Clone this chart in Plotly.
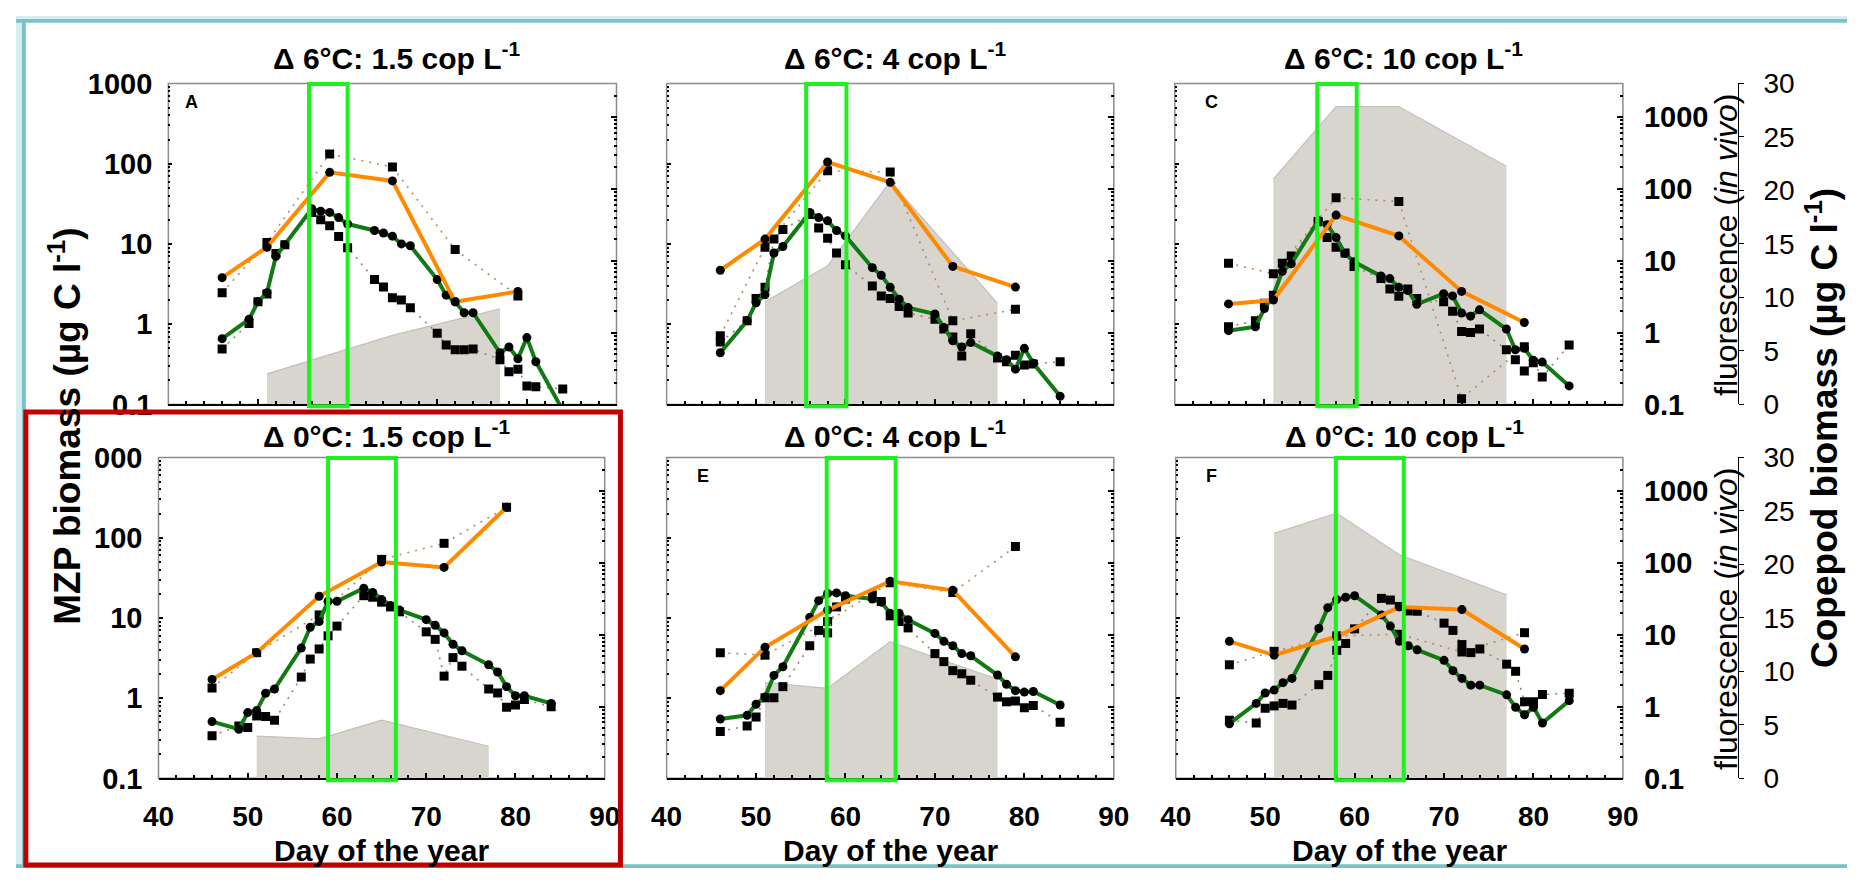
import plotly.graph_objects as go

W, H = 1863, 884
FONT = "Liberation Sans, Arial, sans-serif"

# ---- sampling days -------------------------------------------------------
DAYS_WEEKLY = [46, 51, 58, 65, 72, 79]
DAYS_DAILY = [46, 49, 50, 51, 52, 53, 56, 57, 58, 59, 60, 63, 64, 65, 66, 67,
              70, 71, 72, 73, 74, 77, 78, 79, 80, 81, 84]
DAYS_FLUO = [51, 58, 65, 72, 77]

# ---- panel titles and letters -------------------------------------------
TITLES = ["Δ 6°C: 1.5 cop L<sup>-1</sup>", "Δ 6°C: 4 cop L<sup>-1</sup>",
          "Δ 6°C: 10 cop L<sup>-1</sup>", "Δ 0°C: 1.5 cop L<sup>-1</sup>",
          "Δ 0°C: 4 cop L<sup>-1</sup>", "Δ 0°C: 10 cop L<sup>-1</sup>"]
LETTERS = ["A", "", "C", "", "E", "F"]

# ---- MZP biomass (µg C l-1): weekly series (orange) ------------------------
A_ORANGE_MOD = [3.8, 9.1, 78, 61, 1.9, 2.56]
A_ORANGE_OBS = [2.47, 10.4, 132, 91, 8.5, 2.25]
B_ORANGE_MOD = [4.7, 11.5, 105, 58.6, 5.25, 2.9]
B_ORANGE_OBS = [0.72, 9.1, 81.7, 79, 1.1, 1.53]
C_ORANGE_MOD = [1.79, 2.0, 22.9, 12.6, 2.56, 1.05]
C_ORANGE_OBS = [5.75, 4.25, 37.7, 33.7, 0.118, 0.525]
D_ORANGE_MOD = [1.71, 3.69, 18.6, 49.8, 42.6, 239]
D_ORANGE_OBS = [1.34, 3.69, 10.9, 53.6, 85, 239]
E_ORANGE_MOD = [1.24, 4.3, 12.5, 28.6, 22.1, 3.27]
E_ORANGE_OBS = [3.69, 3.43, 9.0, 27.4, 20.7, 77.6]
F_ORANGE_MOD = [5.1, 3.43, 5.86, 13.7, 12.7, 4.1]
F_ORANGE_OBS = [2.6, 3.83, 5.97, 6.25, 3.76, 6.55]

# ---- MZP biomass (µg C l-1): daily series (green) --------------------------
A_GREEN_MOD = [0.66, 1.15, 1.9, 2.47, 7.0, 9.8, 27.5, 25.6, 24.7, 21.3, 17.7, 14.7, 13.7,
               12.5, 10, 9.5, 3.6, 2.3, 1.9, 1.39, 1.39, 0.44, 0.52, 0.37, 0.68, 0.34, 0.085]
A_GREEN_OBS = [0.49, 1.02, 1.9, 2.38, 7.6, 9.8, 24.7, 20, 16.9, 12.4, 8.95, 3.6, 2.9,
               2.13, 2.0, 1.6, 0.77, 0.55, 0.48, 0.48, 0.49, 0.36, 0.256, 0.275, 0.17, 0.166, 0.156]
B_GREEN_MOD = [0.44, 1.1, 1.85, 2.33, 7.7, 9.3, 24.7, 21.3, 19.4, 14.7, 12.6, 5.06, 4.06,
               2.88, 2.05, 1.61, 1.34, 0.91, 0.62, 0.52, 0.59, 0.40, 0.36, 0.275, 0.5, 0.325, 0.126]
B_GREEN_OBS = [0.60, 1.1, 2.09, 2.88, 11.5, 15.1, 23.3, 15.8, 11.8, 7.7, 5.5, 3.0, 2.25,
               2.09, 1.66, 1.38, 1.15, 0.87, 0.69, 0.40, 0.76, 0.38, 0.34, 0.41, 0.31, 0.32, 0.34]
C_GREEN_MOD = [0.83, 0.93, 1.56, 2.29, 4.57, 5.65, 19.6, 17.4, 12.0, 7.6, 6.0, 3.98, 3.7,
               2.88, 2.63, 1.77, 2.4, 2.25, 1.38, 1.26, 1.51, 0.87, 0.48, 0.50, 0.356, 0.337, 0.17]
C_GREEN_OBS = [0.93, 1.1, 1.82, 2.29, 5.75, 7.05, 19, 12, 9.1, 7.7, 5.25, 3.7, 2.75,
               2.23, 2.75, 2.09, 1.9, 1.45, 0.81, 0.79, 0.87, 0.48, 0.36, 0.26, 0.33, 0.22, 0.55]
D_GREEN_MOD = [0.51, 0.41, 0.66, 0.70, 1.15, 1.30, 4.2, 7.65, 9.0, 16.1, 16.1, 23.4, 20.7,
               16.9, 14.3, 12.5, 9.5, 8.1, 6.5, 4.7, 3.9, 2.6, 2.12, 1.39, 1.07, 1.07, 0.86]
D_GREEN_OBS = [0.34, 0.45, 0.43, 0.60, 0.59, 0.53, 1.83, 3.07, 4.1, 5.97, 7.9, 18.9, 18.1,
               15.7, 13.7, 11.9, 6.7, 5.4, 1.88, 3.2, 2.5, 1.3, 1.16, 0.77, 0.82, 0.96, 0.78]
E_GREEN_MOD = [0.55, 0.61, 0.84, 1.03, 1.92, 2.46, 10.1, 16.4, 20.2, 20.5, 18.9, 17.2, 15.7,
               11.4, 11.4, 9.5, 6.4, 5.1, 4.5, 3.59, 3.37, 1.94, 1.49, 1.24, 1.19, 1.21, 0.82]
E_GREEN_OBS = [0.385, 0.45, 0.58, 1.01, 1.01, 1.39, 4.5, 6.98, 6.5, 13.7, 17.2, 19.3, 16.0,
               10.6, 9.0, 7.5, 3.59, 2.85, 2.2, 2.01, 1.67, 1.03, 0.90, 0.92, 0.76, 0.81, 0.50]
F_GREEN_MOD = [0.48, 0.86, 1.16, 1.26, 1.56, 1.76, 7.4, 13.4, 16.9, 18.1, 18.9, 10.9, 7.9,
               5.1, 4.5, 4.0, 2.96, 2.2, 1.76, 1.45, 1.45, 1.10, 0.77, 0.62, 0.77, 0.49, 0.93]
F_GREEN_OBS = [0.53, 0.49, 0.75, 0.80, 0.86, 0.82, 1.47, 1.92, 3.94, 4.8, 7.3, 17.5, 16.7,
               13.9, 12.2, 12.1, 8.6, 6.98, 4.65, 3.69, 4.1, 2.65, 2.16, 0.90, 0.90, 1.11, 1.15]

# ---- in vivo fluorescence (grey area, 0-30 scale) --------------------------
A_FLUO = [2.85, 4.65, 6.45, 7.9, 8.94]
B_FLUO = [9.6, 12.96, 20.85, 14.2, 9.45]
C_FLUO = [21.06, 27.84, 27.84, 24.6, 22.26]
D_FLUO = [3.94, 3.70, 5.44, 4.02, 3.0]
E_FLUO = [8.96, 8.42, 12.78, 10.73, 9.26]
F_FLUO = [22.9, 24.8, 20.9, 18.7, 17.16]

# ---- highlighted period (day of year) --------------------------------------
BLOOM_WINDOWS = [(55.7, 60.0), (55.6, 60.1), (55.9, 60.3),
                 (59.0, 66.6), (57.9, 65.6), (57.9, 65.5)]

ORANGE_MOD = [A_ORANGE_MOD, B_ORANGE_MOD, C_ORANGE_MOD, D_ORANGE_MOD, E_ORANGE_MOD, F_ORANGE_MOD]
ORANGE_OBS = [A_ORANGE_OBS, B_ORANGE_OBS, C_ORANGE_OBS, D_ORANGE_OBS, E_ORANGE_OBS, F_ORANGE_OBS]
GREEN_MOD = [A_GREEN_MOD, B_GREEN_MOD, C_GREEN_MOD, D_GREEN_MOD, E_GREEN_MOD, F_GREEN_MOD]
GREEN_OBS = [A_GREEN_OBS, B_GREEN_OBS, C_GREEN_OBS, D_GREEN_OBS, E_GREEN_OBS, F_GREEN_OBS]
FLUO = [A_FLUO, B_FLUO, C_FLUO, D_FLUO, E_FLUO, F_FLUO]

# ---- geometry (pixels) -----------------------------------------------------
COLS = [(155, 611), (662, 1117), (1179, 1635), (145, 599), (662, 1117), (1180, 1635)]
ROWS = [(70, 403), (70, 403), (70, 403), (458, 791), (458, 791), (458, 791)]
TITLE_Y = [42, 42, 42, 434, 434, 434]
FLUO_AXIS_X = 1752


def fx(p):
    return p / W


def fy(p):
    return 1 - p / H


def ax_id(letter, k):
    return letter if k == 1 else f"{letter}{k}"


def ax_key(letter, k):
    return f"{letter}axis" if k == 1 else f"{letter}axis{k}"


ORANGE = "#ff8a00"
GREEN = "#127a12"
LIME = "#1ff01f"
GREY_FILL = "#d8d4ce"
DOT_ORANGE = "#b88a5c"
DOT_GREEN = "#8a8a6a"

DECADES = [0.1, 1, 10, 100, 1000]
MINOR_LOG = [k * 10 ** e for e in range(-1, 4) for k in range(2, 10)]

fig = go.Figure()
layout = dict(
    width=W, height=H, margin=dict(l=0, r=0, t=0, b=0),
    paper_bgcolor="white", plot_bgcolor="rgba(0,0,0,0)",
    showlegend=False, font=dict(family=FONT, color="black"),
)
shapes = []
annotations = []

for i in range(6):
    n = i + 1
    xa = ax_id("x", n)
    kb, km, kc = 3 * i + 1, 3 * i + 2, 3 * i + 3
    yb, ym, yc = ax_id("y", kb), ax_id("y", km), ax_id("y", kc)
    x0, x1 = COLS[i]
    t0, t1 = ROWS[i]
    xdom = [fx(x0), fx(x1)]
    ydom = [fy(t1), fy(t0)]
    bottom = i >= 3
    right_col = i in (2, 5)
    left_col = i in (0, 3)

    # x axis
    layout[ax_key("x", n)] = dict(
        domain=xdom, anchor=yb, range=[40, 90], tick0=40, dtick=10,
        showgrid=False, zeroline=False, showline=True, linecolor="black", linewidth=2,
        ticks="inside", ticklen=5, tickwidth=2, tickcolor="black",
        minor=dict(dtick=2, tick0=40, ticks="inside", ticklen=3, tickwidth=2, tickcolor="black"),
        showticklabels=bottom, ticklabelstandoff=12,
        tickfont=dict(family=FONT, size=28, weight="bold", color="black"),
    )

    # base axis: in vivo fluorescence (linear 0-30)
    base = dict(domain=ydom, range=[0, 30], showgrid=False, zeroline=False, fixedrange=True)
    if right_col:
        base.update(
            anchor="free", position=fx(FLUO_AXIS_X), side="right", showline=True,
            linecolor="black", linewidth=1, ticks="outside", ticklen=5, tickwidth=1,
            tickcolor="black", dtick=5, tick0=0, ticklabelstandoff=14,
            tickfont=dict(family=FONT, size=28, color="black"),
        )
    else:
        base.update(anchor=xa, visible=False)
    layout[ax_key("y", kb)] = base

    # MZP biomass (log, left)
    ticktext = ["0.1", "1", "10", "100", "1000" if i != 3 else "000"]
    layout[ax_key("y", km)] = dict(
        type="log", range=[-1, 3], overlaying=yb, anchor=xa, side="left",
        showgrid=False, zeroline=False, showline=False,
        tickvals=DECADES, ticktext=ticktext, showticklabels=left_col,
        ticks="inside", ticklen=4, tickwidth=2, tickcolor="black",
        minor=dict(tickvals=MINOR_LOG, ticks="inside", ticklen=2, tickwidth=1.5, tickcolor="black"),
        ticklabelstandoff=15,
        tickfont=dict(family=FONT, size=29, weight="bold", color="black"),
    )

    # copepod biomass (log, right)
    layout[ax_key("y", kc)] = dict(
        type="log", range=[-1, 3.47], overlaying=yb, anchor=xa, side="right",
        showgrid=False, zeroline=False, showline=False,
        tickvals=DECADES, ticktext=["0.1", "1", "10", "100", "1000"], showticklabels=right_col,
        ticks="inside", ticklen=6, tickwidth=2, tickcolor="black",
        minor=dict(tickvals=MINOR_LOG, ticks="inside", ticklen=3, tickwidth=1.5, tickcolor="black"),
        ticklabelstandoff=20,
        tickfont=dict(family=FONT, size=29, weight="bold", color="black"),
    )

    # grey fluorescence area
    fig.add_trace(go.Scatter(
        x=DAYS_FLUO, y=FLUO[i], xaxis=xa, yaxis=yb, mode="lines",
        fill="tozeroy", fillcolor=GREY_FILL, line=dict(color="#c2c0bc", width=1.2),
        hoverinfo="skip",
    ))

    # observations (dotted, squares)
    fig.add_trace(go.Scatter(
        x=DAYS_WEEKLY, y=ORANGE_OBS[i], xaxis=xa, yaxis=ym, mode="lines+markers",
        line=dict(color=DOT_ORANGE, width=1.6, dash="2px,6px"),
        marker=dict(symbol="square", size=9, color="black"),
    ))
    fig.add_trace(go.Scatter(
        x=DAYS_DAILY, y=GREEN_OBS[i], xaxis=xa, yaxis=ym, mode="lines+markers",
        line=dict(color=DOT_GREEN, width=1.6, dash="2px,6px"),
        marker=dict(symbol="square", size=9, color="black"),
    ))
    # simulations (solid, circles)
    fig.add_trace(go.Scatter(
        x=DAYS_DAILY, y=GREEN_MOD[i], xaxis=xa, yaxis=ym, mode="lines+markers",
        line=dict(color=GREEN, width=4),
        marker=dict(symbol="circle", size=9, color="black"),
    ))
    fig.add_trace(go.Scatter(
        x=DAYS_WEEKLY, y=ORANGE_MOD[i], xaxis=xa, yaxis=ym, mode="lines+markers",
        line=dict(color=ORANGE, width=4),
        marker=dict(symbol="circle", size=9, color="black"),
    ))
    # copepod axis holder
    fig.add_trace(go.Scatter(x=[], y=[], xaxis=xa, yaxis=yc, mode="lines",
                             hoverinfo="skip"))

    # plot frame
    shapes.append(dict(type="rect", xref=f"{xa} domain", yref=f"{yb} domain",
                       x0=0, x1=1, y0=0, y1=1, layer="below",
                       line=dict(color="#8c8c8c", width=1.5)))
    # highlighted period
    w0, w1 = BLOOM_WINDOWS[i]
    shapes.append(dict(type="rect", xref=xa, yref=f"{yb} domain",
                       x0=w0, x1=w1, y0=-0.006, y1=0.998, layer="above",
                       line=dict(color=LIME, width=4)))

    # title and letter
    cx = (x0 + x1) / 2 + 5
    annotations.append(dict(text=TITLES[i], x=fx(cx), y=fy(TITLE_Y[i]), xref="paper", yref="paper",
                            showarrow=False, xanchor="center", yanchor="middle",
                            font=dict(family=FONT, size=30, weight="bold", color="black")))
    if LETTERS[i]:
        off = 15 if i == 0 else 29
        annotations.append(dict(text=LETTERS[i], x=fx(x0 + off), y=fy(t0 + 19), xref="paper",
                                yref="paper", showarrow=False, xanchor="left", yanchor="middle",
                                font=dict(family=FONT, size=18, weight="bold", color="black")))
    if bottom:
        annotations.append(dict(text="Day of the year", x=fx((x0 + x1) / 2), y=fy(866),
                                xref="paper", yref="paper", showarrow=False,
                                xanchor="center", yanchor="middle",
                                font=dict(family=FONT, size=30, weight="bold", color="black")))
    if right_col:
        annotations.append(dict(text="fluorescence (<i>in vivo</i>)", x=fx(1740),
                                y=fy((t0 + t1) / 2 + 1), xref="paper", yref="paper",
                                showarrow=False, textangle=-90, xanchor="center", yanchor="middle",
                                font=dict(family=FONT, size=32, color="black")))

annotations.append(dict(text="MZP biomass (µg C l<sup>-1</sup>)", x=fx(50), y=fy(426),
                        xref="paper", yref="paper", showarrow=False, textangle=-90,
                        xanchor="center", yanchor="middle",
                        font=dict(family=FONT, size=37, weight="bold", color="black")))
annotations.append(dict(text="Copepod biomass (µg C l<sup>-1</sup>)", x=fx(1838), y=fy(427),
                        xref="paper", yref="paper", showarrow=False, textangle=-90,
                        xanchor="center", yanchor="middle",
                        font=dict(family=FONT, size=37, weight="bold", color="black")))

# page border strips
BORDER_LIGHT = "#d6edf0"
BORDER_TEAL = "#79c2c7"
shapes += [
    dict(type="rect", xref="paper", yref="paper", x0=0, x1=fx(6), y0=0, y1=1,
         fillcolor=BORDER_LIGHT, line=dict(width=0), layer="above"),
    dict(type="rect", xref="paper", yref="paper", x0=0, x1=1, y0=fy(3), y1=1,
         fillcolor=BORDER_LIGHT, line=dict(width=0), layer="above"),
    dict(type="rect", xref="paper", yref="paper", x0=0, x1=1, y0=fy(7), y1=fy(3),
         fillcolor=BORDER_TEAL, line=dict(width=0), layer="above"),
    dict(type="rect", xref="paper", yref="paper", x0=fx(6), x1=fx(10), y0=0, y1=fy(3),
         fillcolor=BORDER_TEAL, line=dict(width=0), layer="above"),
    dict(type="rect", xref="paper", yref="paper", x0=0, x1=1, y0=0, y1=fy(880),
         fillcolor=BORDER_TEAL, line=dict(width=0), layer="above"),
    dict(type="rect", xref="paper", yref="paper", x0=fx(10), x1=fx(615), y0=fy(881), y1=fy(411),
         fillcolor="rgba(0,0,0,0)", line=dict(color="#c00000", width=5), layer="above"),
]

layout["shapes"] = shapes
layout["annotations"] = annotations
fig.update_layout(**layout)
fig.update_traces(showlegend=False, cliponaxis=True)

fig.write_html("out.html")
